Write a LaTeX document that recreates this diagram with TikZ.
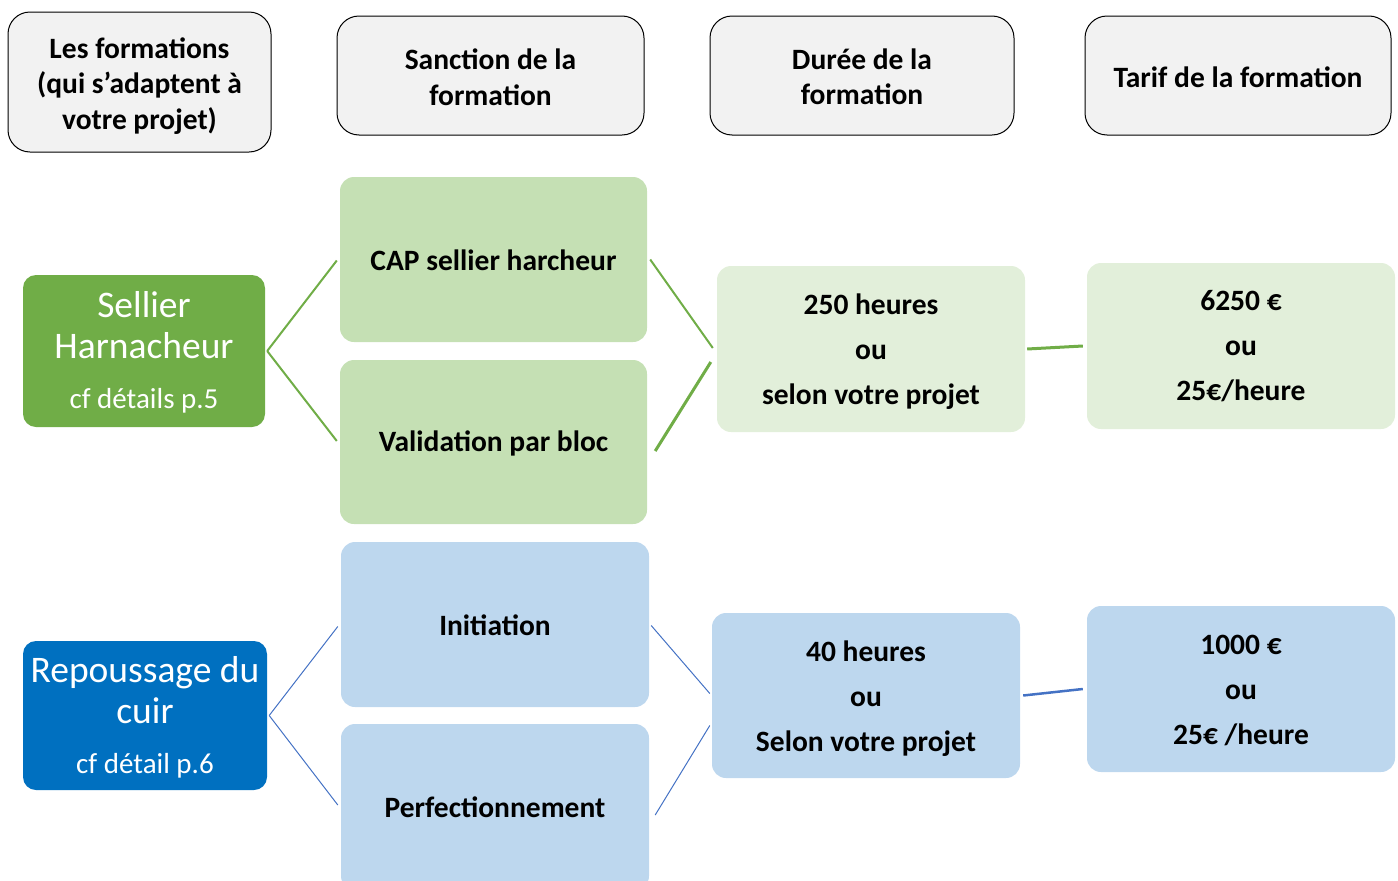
\documentclass[tikz,border=0pt]{standalone}
\usepackage{fontspec}
\setmainfont{Carlito}
\usetikzlibrary{calc}
\definecolor{hdrgray}{HTML}{F2F2F2}
\definecolor{sellgreen}{HTML}{70AD47}
\definecolor{lgreen}{HTML}{C5E0B4}
\definecolor{pgreen}{HTML}{E2EFDA}
\definecolor{repblue}{HTML}{0070C0}
\definecolor{lblue}{HTML}{BDD7EE}
\definecolor{lineblue}{HTML}{4472C4}
\newcommand\hdrfont{\fontsize{29.5}{35.5}\selectfont\bfseries}
\newcommand\valfont{\fontsize{29.5}{45}\selectfont\bfseries}
\newcommand\grpfont{\fontsize{37.5}{41}\selectfont}
\newcommand\cffont{\fontsize{29}{30}\selectfont}
\tikzset{
  hdr/.style={draw=black, line width=1pt, fill=hdrgray, rounded corners=22pt, inner sep=0pt},
  grp/.style={rounded corners=13pt, inner sep=0pt},
  sub/.style={rounded corners=14pt, inner sep=0pt},
  htxt/.style={inner sep=0pt, align=center, font=\hdrfont, text=black},
  gtxt/.style={inner sep=0pt, align=center, font=\grpfont, text=white},
  vtxt/.style={inner sep=0pt, align=center, font=\valfont, text=black},
  gline/.style={draw=sellgreen, line width=2pt},
  bline/.style={draw=lineblue, line width=1pt},
}
\begin{document}
\begin{tikzpicture}[x=1pt,y=-1pt]
\useasboundingbox (0,0) rectangle (1398,881);
\clip (0,0) rectangle (1398,881);
% headers
\node[hdr, minimum width=263pt, minimum height=140pt] (h1) at (139.5,82) {};
\node[htxt] (h1t) at ($(h1.center)+(0,4)$) {Les formations\\(qui s’adaptent à\\votre projet)};
\node[hdr, minimum width=307pt, minimum height=119pt] (h2) at (490.5,75.5) {};
\node[htxt] (h2t) at ($(h2.center)+(0,1.5)$) {Sanction de la\\formation};
\node[hdr, minimum width=304pt, minimum height=119pt] (h3) at (862,75.5) {};
\node[htxt] (h3t) at ($(h3.center)+(0,1.5)$) {Durée de la\\formation};
\node[hdr, minimum width=306pt, minimum height=119pt] (h4) at (1238,75.5) {};
\node[htxt] (h4t) at ($(h4.center)+(0,2)$) {Tarif de la formation};
% green group
\node[grp, fill=sellgreen, minimum width=242pt, minimum height=152pt] (sel) at (144,351) {};
\node[gtxt] (selt) at ($(sel.center)+(0,1.5)$) {Sellier\\Harnacheur\\[9pt]{\cffont cf détails p.5}};
\node[sub, fill=lgreen, minimum width=307pt, minimum height=165pt] (cap) at (493.5,259.5) {};
\node[vtxt] (capt) at ($(cap.center)+(0,1)$) {CAP sellier harcheur};
\node[sub, fill=lgreen, minimum width=307pt, minimum height=164pt] (val) at (493.5,442) {};
\node[vtxt] (valt) at ($(val.center)+(0,1)$) {Validation par bloc};
\node[sub, fill=pgreen, minimum width=308pt, minimum height=166pt] (d250) at (871,349) {};
\node[vtxt] (d250t) at ($(d250.center)+(0,2.5)$) {250 heures\\ou\\selon votre projet};
\node[sub, fill=pgreen, minimum width=308pt, minimum height=166pt] (t6250) at (1241,346) {};
\node[vtxt] (t6250t) at ($(t6250.center)+(0,0.5)$) {6250 €\\ou\\25€/heure};
% blue group
\node[grp, fill=repblue, minimum width=244pt, minimum height=149pt] (rep) at (145,715.5) {};
\node[gtxt] (rept) at ($(rep.center)+(0,1.5)$) {Repoussage du\\cuir\\[9pt]{\cffont cf détail p.6}};
\node[sub, fill=lblue, minimum width=308pt, minimum height=165pt] (ini) at (495,624.5) {};
\node[vtxt] (init) at ($(ini.center)+(0,1)$) {Initiation};
\node[sub, fill=lblue, minimum width=308pt, minimum height=166pt] (per) at (495,807) {};
\node[vtxt] (pert) at ($(per.center)+(0,0)$) {Perfectionnement};
\node[sub, fill=lblue, minimum width=308pt, minimum height=165pt] (d40) at (866,695.5) {};
\node[vtxt] (d40t) at ($(d40.center)+(0,3.5)$) {40 heures\\ou\\Selon votre projet};
\node[sub, fill=lblue, minimum width=308pt, minimum height=166pt] (t1000) at (1241,689) {};
\node[vtxt] (t1000t) at ($(t1000.center)+(0,1)$) {1000 €\\ou\\25€ /heure};
% green connectors
\draw[gline] ($(sel.east)+(2,0)$) -- ($(cap.west)+(-3,1)$);
\draw[gline] ($(sel.east)+(2,0)$) -- ($(val.west)+(-3,-1)$);
\draw[gline] ($(cap.east)+(3,0)$) -- ($(d250.west)+(-4,-1)$);
\draw[gline, line width=3pt] ($(val.east)+(8,9)$) -- ($(d250.west)+(-6,13)$);
\draw[gline, line width=3pt] ($(d250.east)+(2,0)$) -- ($(t6250.west)+(-4,0)$);
% blue connectors
\draw[bline] ($(rep.east)+(2,0)$) -- ($(ini.west)+(-3,2)$);
\draw[bline] ($(rep.east)+(2,0)$) -- ($(per.west)+(-3,-2)$);
\draw[bline] ($(ini.east)+(2,1)$) -- ($(d40.west)+(-2,-2)$);
\draw[bline] ($(per.east)+(6,8)$) -- ($(d40.west)+(-2,30)$);
\draw[bline, line width=2.5pt] ($(d40.east)+(3,0)$) -- ($(t1000.west)+(-4,0)$);
\end{tikzpicture}
\end{document}
